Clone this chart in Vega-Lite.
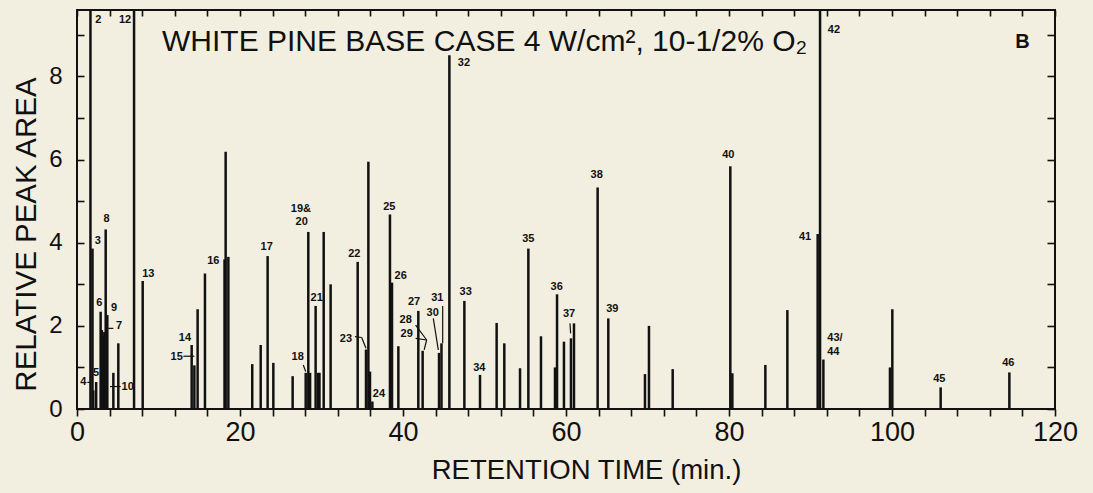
{
  "$schema": "https://vega.github.io/schema/vega-lite/v6.json",
  "width": 978,
  "height": 399,
  "autosize": {"type": "none"},
  "padding": {"left": 77, "top": 10, "right": 38, "bottom": 84},
  "background": "#f2eee0",
  "config": {
    "view": {"stroke": "#111", "strokeWidth": 2},
    "font": "Liberation Sans",
    "axis": {"domain": false, "grid": false, "tickColor": "#111", "labelColor": "#111", "titleColor": "#111", "labelFont": "Liberation Sans", "titleFont": "Liberation Sans", "titleFontWeight": "normal", "tickWidth": 1.6}
  },
  "datasets": {
    "peaks": [
      {"t": 1.65, "v": 20}, {"t": 1.9, "v": 3.86}, {"t": 2.0, "v": 0.45}, {"t": 2.35, "v": 0.65},
      {"t": 2.9, "v": 2.34}, {"t": 3.05, "v": 1.9}, {"t": 3.2, "v": 1.75}, {"t": 3.35, "v": 1.85},
      {"t": 3.52, "v": 4.32}, {"t": 3.72, "v": 2.26}, {"t": 4.46, "v": 0.87}, {"t": 5.07, "v": 1.58},
      {"t": 7.0, "v": 20}, {"t": 8.06, "v": 3.08}, {"t": 14.07, "v": 1.54}, {"t": 14.4, "v": 1.05},
      {"t": 14.8, "v": 2.4}, {"t": 15.7, "v": 3.26}, {"t": 18.1, "v": 3.6}, {"t": 18.24, "v": 6.19},
      {"t": 18.57, "v": 3.66}, {"t": 21.5, "v": 1.08}, {"t": 22.54, "v": 1.54}, {"t": 23.39, "v": 3.68},
      {"t": 24.09, "v": 1.11}, {"t": 26.46, "v": 0.79}, {"t": 28.06, "v": 0.87}, {"t": 28.38, "v": 4.26},
      {"t": 28.6, "v": 0.87}, {"t": 29.28, "v": 2.48}, {"t": 29.6, "v": 0.87}, {"t": 29.75, "v": 0.87},
      {"t": 30.27, "v": 4.26}, {"t": 31.12, "v": 3.0}, {"t": 34.44, "v": 3.54}, {"t": 35.46, "v": 1.43},
      {"t": 35.75, "v": 5.95}, {"t": 35.95, "v": 0.9}, {"t": 36.24, "v": 0.18}, {"t": 38.4, "v": 4.68},
      {"t": 38.65, "v": 3.04}, {"t": 39.43, "v": 1.51}, {"t": 41.88, "v": 2.36}, {"t": 42.41, "v": 1.4},
      {"t": 44.42, "v": 1.35}, {"t": 44.72, "v": 1.58}, {"t": 45.69, "v": 8.51}, {"t": 47.53, "v": 2.6},
      {"t": 49.45, "v": 0.82}, {"t": 51.49, "v": 2.07}, {"t": 52.43, "v": 1.58}, {"t": 54.36, "v": 0.98},
      {"t": 55.38, "v": 3.86}, {"t": 56.93, "v": 1.75}, {"t": 58.65, "v": 1.0}, {"t": 58.9, "v": 2.76},
      {"t": 59.75, "v": 1.62}, {"t": 60.61, "v": 1.7}, {"t": 60.98, "v": 2.06}, {"t": 63.88, "v": 5.33},
      {"t": 65.19, "v": 2.18}, {"t": 69.69, "v": 0.84}, {"t": 70.18, "v": 2.0}, {"t": 73.09, "v": 0.96},
      {"t": 80.16, "v": 5.84}, {"t": 80.41, "v": 0.86}, {"t": 84.46, "v": 1.06}, {"t": 87.16, "v": 2.38},
      {"t": 90.88, "v": 4.21}, {"t": 91.17, "v": 20}, {"t": 91.58, "v": 1.19}, {"t": 99.75, "v": 1.0},
      {"t": 100.04, "v": 2.4}, {"t": 105.97, "v": 0.52}, {"t": 114.4, "v": 0.88}
    ],
    "labels": [
      {"label": "2", "t": 2.62, "v": 9.35}, {"label": "12", "t": 5.89, "v": 9.35},
      {"label": "3", "t": 2.54, "v": 4.05}, {"label": "8", "t": 3.64, "v": 4.56},
      {"label": "6", "t": 2.74, "v": 2.56}, {"label": "9", "t": 4.54, "v": 2.42},
      {"label": "7", "t": 5.15, "v": 2.0}, {"label": "4", "t": 0.78, "v": 0.64},
      {"label": "5", "t": 2.33, "v": 0.86}, {"label": "10", "t": 6.22, "v": 0.54},
      {"label": "13", "t": 8.75, "v": 3.26}, {"label": "14", "t": 13.25, "v": 1.72},
      {"label": "15", "t": 12.23, "v": 1.24}, {"label": "16", "t": 16.73, "v": 3.57},
      {"label": "17", "t": 23.27, "v": 3.89}, {"label": "18", "t": 27.08, "v": 1.24},
      {"label": "19&", "t": 27.48, "v": 4.82}, {"label": "20", "t": 27.57, "v": 4.5},
      {"label": "21", "t": 29.41, "v": 2.68}, {"label": "22", "t": 34.03, "v": 3.74},
      {"label": "23", "t": 33.0, "v": 1.68}, {"label": "24", "t": 37.05, "v": 0.35},
      {"label": "25", "t": 38.32, "v": 4.85}, {"label": "26", "t": 39.71, "v": 3.2},
      {"label": "27", "t": 41.35, "v": 2.58}, {"label": "28", "t": 40.33, "v": 2.14},
      {"label": "29", "t": 40.45, "v": 1.8}, {"label": "30", "t": 43.64, "v": 2.3},
      {"label": "31", "t": 44.21, "v": 2.66}, {"label": "32", "t": 47.48, "v": 8.32},
      {"label": "33", "t": 47.69, "v": 2.82}, {"label": "34", "t": 49.37, "v": 0.99},
      {"label": "35", "t": 55.38, "v": 4.08}, {"label": "36", "t": 58.86, "v": 2.93},
      {"label": "37", "t": 60.37, "v": 2.28}, {"label": "38", "t": 63.76, "v": 5.63},
      {"label": "39", "t": 65.69, "v": 2.4}, {"label": "40", "t": 79.92, "v": 6.11},
      {"label": "41", "t": 89.33, "v": 4.13}, {"label": "42", "t": 92.88, "v": 9.13},
      {"label": "43/", "t": 93.0, "v": 1.72}, {"label": "44", "t": 92.8, "v": 1.38},
      {"label": "45", "t": 105.8, "v": 0.71}, {"label": "46", "t": 114.27, "v": 1.1}
    ],
    "leaders": [
      {"t": 1.27, "v": 0.64, "t2": 1.75, "v2": 0.64},
      {"t": 3.84, "v": 1.94, "t2": 4.46, "v2": 1.94},
      {"t": 4.05, "v": 0.54, "t2": 5.36, "v2": 0.54},
      {"t": 13.05, "v": 1.27, "t2": 14.4, "v2": 1.27},
      {"t": 27.77, "v": 1.06, "t2": 28.06, "v2": 0.9},
      {"t": 34.1, "v": 1.74, "t2": 34.93, "v2": 1.72},
      {"t": 34.93, "v": 1.72, "t2": 35.46, "v2": 1.46},
      {"t": 41.55, "v": 2.02, "t2": 42.9, "v2": 1.66},
      {"t": 41.55, "v": 1.7, "t2": 42.9, "v2": 1.66},
      {"t": 42.9, "v": 1.66, "t2": 42.6, "v2": 1.42},
      {"t": 43.72, "v": 2.18, "t2": 44.33, "v2": 1.42},
      {"t": 44.87, "v": 2.48, "t2": 44.87, "v2": 1.58},
      {"t": 60.49, "v": 2.06, "t2": 60.57, "v2": 1.82}
    ],
    "notes": [
      {"text": "WHITE PINE BASE CASE 4 W/cm², 10-1/2% O₂", "t": 10.43, "v": 8.83}
    ],
    "panel": [
      {"text": "B", "t": 116.0, "v": 8.83}
    ]
  },
  "layer": [
    {
      "data": {"name": "peaks"},
      "mark": {"type": "rule", "color": "#111", "strokeWidth": 2.5, "clip": true},
      "encoding": {
        "x": {"field": "t", "type": "quantitative", "scale": {"domain": [0, 120], "nice": false, "zero": false},
          "axis": {"orient": "bottom", "values": [0,4,8,12,16,20,24,28,32,36,40,44,48,52,56,60,64,68,72,76,80,84,88,92,96,100,104,108,112,116,120],
            "labelExpr": "datum.value % 20 === 0 ? datum.label : ''", "tickSize": 7, "labelFontSize": 27, "labelPadding": 3,
            "title": "RETENTION TIME (min.)", "titleFontSize": 27.5, "titlePadding": 11, "titleX": 509, "labelFlush": false}},
        "y": {"field": "v", "type": "quantitative", "scale": {"domain": [0, 9.6], "nice": false},
          "axis": {"orient": "left", "values": [0,1,2,3,4,5,6,7,8,9], "labelExpr": "datum.value % 2 === 0 ? datum.label : ''",
            "tickSize": -7, "labelFontSize": 24, "labelPadding": 22, "title": "RELATIVE PEAK AREA", "titleFontSize": 29.5, "titlePadding": 7, "titleY": 224}},
        "y2": {"datum": 0}
      }
    },
    {
      "data": {"name": "labels"},
      "mark": {"type": "text", "font": "Liberation Sans", "fontWeight": "bold", "fontSize": 11, "color": "#111", "align": "center", "baseline": "middle"},
      "encoding": {
        "x": {"field": "t", "type": "quantitative", "axis": {"orient": "top", "values": [0,4,8,12,16,20,24,28,32,36,40,44,48,52,56,60,64,68,72,76,80,84,88,92,96,100,104,108,112,116,120], "labels": false, "tickSize": -6, "title": null}},
        "y": {"field": "v", "type": "quantitative", "axis": {"orient": "right", "values": [0,1,2,3,4,5,6,7,8,9], "labels": false, "tickSize": -8, "title": null}},
        "text": {"field": "label"}
      }
    },
    {
      "data": {"name": "leaders"},
      "mark": {"type": "rule", "color": "#111", "strokeWidth": 1.2},
      "encoding": {
        "x": {"field": "t", "type": "quantitative", "axis": null},
        "y": {"field": "v", "type": "quantitative", "axis": null},
        "x2": {"field": "t2"},
        "y2": {"field": "v2"}
      }
    },
    {
      "data": {"name": "notes"},
      "mark": {"type": "text", "font": "Liberation Sans", "fontSize": 30, "color": "#111", "align": "left", "baseline": "middle"},
      "encoding": {
        "x": {"field": "t", "type": "quantitative", "axis": null},
        "y": {"field": "v", "type": "quantitative", "axis": null},
        "text": {"field": "text"}
      }
    },
    {
      "data": {"name": "panel"},
      "mark": {"type": "text", "font": "Liberation Sans", "fontWeight": "bold", "fontSize": 20, "color": "#111", "align": "center", "baseline": "middle"},
      "encoding": {
        "x": {"field": "t", "type": "quantitative", "axis": null},
        "y": {"field": "v", "type": "quantitative", "axis": null},
        "text": {"field": "text"}
      }
    }
  ]
}
